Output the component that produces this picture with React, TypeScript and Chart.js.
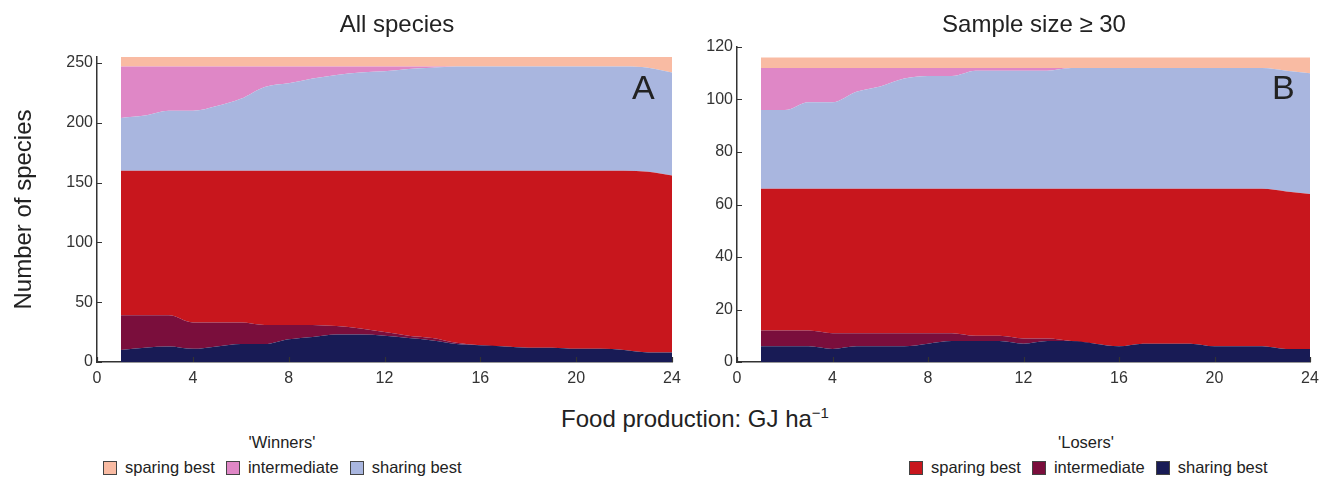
import React, { useEffect, useRef } from 'react';
import { Chart, registerables } from 'chart.js';
Chart.register(...registerables);

// food production levels (GJ/ha)
const foodProduction = [1, 2, 3, 4, 5, 6, 7, 8, 9, 10, 11, 12, 13, 14, 15, 16, 17, 18, 19, 20, 21, 22, 23, 24];

// A: all species
const allLosersSharing = [10, 12, 13, 11, 13, 15, 15, 19, 21, 23, 23, 22, 20, 18, 15, 14, 13, 12, 12, 11, 11, 10, 8, 8];
const allLosersIntermediate = [29, 27, 26, 22, 20, 18, 16, 12, 10, 7, 5, 3, 2, 2, 1, 0, 0, 0, 0, 0, 0, 0, 0, 0];
const allLosersSparing = [121, 121, 121, 127, 127, 127, 129, 129, 129, 130, 132, 135, 138, 140, 144, 146, 147, 148, 148, 149, 149, 150, 151, 148];
const allWinnersSharing = [44, 46, 50, 50, 54, 60, 70, 73, 77, 80, 82, 83, 85, 86, 87, 87, 87, 87, 87, 87, 87, 87, 87, 86];
const allWinnersIntermediate = [43, 41, 37, 37, 33, 27, 17, 14, 10, 7, 5, 4, 2, 1, 0, 0, 0, 0, 0, 0, 0, 0, 0, 0];
const allWinnersSparing = [8, 8, 8, 8, 8, 8, 8, 8, 8, 8, 8, 8, 8, 8, 8, 8, 8, 8, 8, 8, 8, 8, 9, 13];

// B: sample size >= 30
const sampleLosersSharing = [6, 6, 6, 5, 6, 6, 6, 7, 8, 8, 8, 7, 8, 8, 7, 6, 7, 7, 7, 6, 6, 6, 5, 5];
const sampleLosersIntermediate = [6, 6, 6, 6, 5, 5, 5, 4, 3, 2, 2, 2, 1, 0, 0, 0, 0, 0, 0, 0, 0, 0, 0, 0];
const sampleLosersSparing = [54, 54, 54, 55, 55, 55, 55, 55, 55, 56, 56, 57, 57, 58, 59, 60, 59, 59, 59, 60, 60, 60, 60, 59];
const sampleWinnersSharing = [30, 30, 33, 33, 37, 39, 42, 43, 43, 45, 45, 45, 45, 46, 46, 46, 46, 46, 46, 46, 46, 46, 46, 46];
const sampleWinnersIntermediate = [16, 16, 13, 13, 9, 7, 4, 3, 3, 1, 1, 1, 1, 0, 0, 0, 0, 0, 0, 0, 0, 0, 0, 0];
const sampleWinnersSparing = [4, 4, 4, 4, 4, 4, 4, 4, 4, 4, 4, 4, 4, 4, 4, 4, 4, 4, 4, 4, 4, 4, 5, 6];

const categoryLabels = ['sparing best', 'intermediate', 'sharing best'];
const winnerColors = ['#F9BBA3', '#DF87C6', '#A9B6DF'];
const loserColors = ['#C8161D', '#7A0E3C', '#181B55'];

const FONT = '"Liberation Sans", Arial, sans-serif';
const TEXT = '#222';

const inwardTicks = {
    id: 'inwardTicks',
    afterDraw(chart: any) {
        const { ctx, chartArea, scales } = chart;
        ctx.save();
        ctx.strokeStyle = '#333';
        ctx.lineWidth = 1.2;
        ctx.beginPath();
        scales.y.ticks.forEach((t: any) => {
            const y = Math.round(scales.y.getPixelForValue(t.value)) + 0.5;
            ctx.moveTo(chartArea.left, y);
            ctx.lineTo(chartArea.left + 5, y);
        });
        scales.x.ticks.forEach((t: any) => {
            const x = Math.round(scales.x.getPixelForValue(t.value)) + 0.5;
            ctx.moveTo(x, chartArea.bottom);
            ctx.lineTo(x, chartArea.bottom - 5);
        });
        ctx.stroke();
        ctx.restore();
    }
};

interface PanelProps {
    left: number;
    width: number;
    padTop: number;
    padRight: number;
    yMax: number;
    yStep: number;
    showYTitle: boolean;
    series: number[][]; // bottom to top
}

const colorsBottomUp = [loserColors[2], loserColors[1], loserColors[0], winnerColors[2], winnerColors[1], winnerColors[0]];

const Panel: React.FC<PanelProps> = ({ left, width, padTop, padRight, yMax, yStep, showYTitle, series }) => {
    const canvasRef = useRef<HTMLCanvasElement>(null);

    useEffect(() => {
        if (!canvasRef.current) return;
        const chart = new Chart(canvasRef.current, {
            type: 'line',
            data: {
                datasets: series.map((values, i) => ({
                    data: values.map((v, j) => ({ x: foodProduction[j], y: v })),
                    backgroundColor: colorsBottomUp[i],
                    borderWidth: 0,
                    pointRadius: 0,
                    fill: i === 0 ? 'origin' : '-1',
                    cubicInterpolationMode: 'monotone' as const,
                }))
            },
            options: {
                animation: false,
                responsive: true,
                maintainAspectRatio: false,
                layout: { padding: { top: padTop, right: padRight, left: 0, bottom: 0 } },
                plugins: { legend: { display: false }, tooltip: { enabled: false } },
                scales: {
                    x: {
                        type: 'linear',
                        min: 0,
                        max: 24,
                        grid: { display: false, drawTicks: false },
                        border: { display: true, color: '#333', width: 1.5 },
                        ticks: { stepSize: 4, padding: 7, color: '#333', font: { family: FONT, size: 16 } },
                        afterFit: (scale: any) => { scale.height = 38; },
                    },
                    y: {
                        stacked: true,
                        min: 0,
                        max: yMax,
                        grid: { display: false, drawTicks: false },
                        border: { display: true, color: '#333', width: 1.5 },
                        ticks: { stepSize: yStep, includeBounds: false, padding: 4, color: '#333', font: { family: FONT, size: 16 } },
                        title: {
                            display: showYTitle,
                            text: 'Number of species',
                            color: TEXT,
                            font: { family: FONT, size: 24 },
                            padding: { top: 10, bottom: 0 },
                        },
                        afterFit: (scale: any) => { scale.width = 97; },
                    }
                }
            },
            plugins: [inwardTicks]
        });
        return () => chart.destroy();
    }, [series, yMax, yStep, showYTitle, padTop, padRight]);

    return (
        <div style={{ position: 'absolute', left, top: 0, width, height: 400 }}>
            <canvas ref={canvasRef}></canvas>
        </div>
    );
};

const Legend: React.FC<{ title: string; colors: string[]; left: number; titleCenter: number }> = ({ title, colors, left, titleCenter }) => (
    <>
        <div style={{ position: 'absolute', left: titleCenter - 100, width: 200, top: 433, textAlign: 'center', fontSize: 16.5, color: TEXT }}>{title}</div>
        <div style={{ position: 'absolute', left, top: 458, display: 'flex', alignItems: 'center', fontSize: 16.5, color: TEXT, whiteSpace: 'nowrap' }}>
            {categoryLabels.map((label, i) => (
                <div key={label} style={{ display: 'flex', alignItems: 'center', marginRight: 11 }}>
                    <span style={{ display: 'inline-block', width: 12, height: 12, background: colors[i], border: '1px solid #444', marginRight: 8 }}></span>
                    <span>{label}</span>
                </div>
            ))}
        </div>
    </>
);

const allSeries = [allLosersSharing, allLosersIntermediate, allLosersSparing, allWinnersSharing, allWinnersIntermediate, allWinnersSparing];
const sampleSeries = [sampleLosersSharing, sampleLosersIntermediate, sampleLosersSparing, sampleWinnersSharing, sampleWinnersIntermediate, sampleWinnersSparing];

const App: React.FC = () => {
    return (
        <div style={{ position: 'absolute', left: 0, top: 0, width: 1329, height: 482, background: '#fff', fontFamily: FONT, overflow: 'hidden' }}>
            <Panel left={0} width={690} padTop={57} padRight={18} yMax={255} yStep={50} showYTitle={true} series={allSeries} />
            <Panel left={640} width={689} padTop={47} padRight={19} yMax={120} yStep={20} showYTitle={false} series={sampleSeries} />

            <div style={{ position: 'absolute', left: 247, width: 300, top: 10, textAlign: 'center', fontSize: 24, color: TEXT }}>All species</div>
            <div style={{ position: 'absolute', left: 884, width: 300, top: 10, textAlign: 'center', fontSize: 24, color: TEXT }}>Sample size ≥ 30</div>

            <div style={{ position: 'absolute', left: 632, top: 68, fontSize: 34, color: TEXT }}>A</div>
            <div style={{ position: 'absolute', left: 1272, top: 68, fontSize: 34, color: TEXT }}>B</div>

            <div style={{ position: 'absolute', left: 445, width: 500, top: 404, textAlign: 'center', fontSize: 24, color: TEXT }}>
                Food production: GJ ha<sup style={{ fontSize: 15 }}>−1</sup>
            </div>

            <Legend title="'Winners'" colors={winnerColors} left={103} titleCenter={282} />
            <Legend title="'Losers'" colors={loserColors} left={909} titleCenter={1086} />
        </div>
    );
};

export default App;
